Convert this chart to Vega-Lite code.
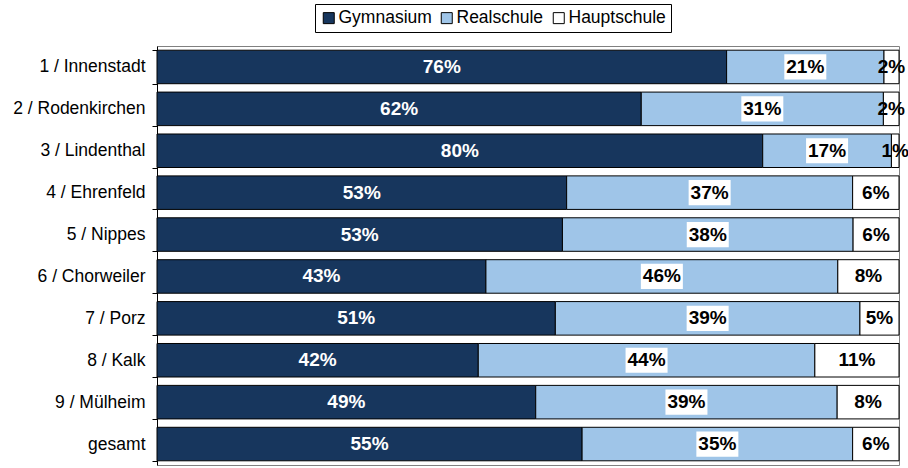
{
  "$schema": "https://vega.github.io/schema/vega-lite/v6.json",
  "width": 742,
  "height": 419,
  "autosize": {"type": "none"},
  "padding": {"left": 157, "top": 46, "right": 9, "bottom": 3},
  "background": "white",
  "config": {"view": {"stroke": "#808080", "strokeWidth": 1}, "font": "Liberation Sans"},
  "data": {
    "values": [
      {"district": "1 / Innenstadt", "school": "Gymnasium", "value": 76, "ord": 1},
      {"district": "1 / Innenstadt", "school": "Realschule", "value": 21, "ord": 2},
      {"district": "1 / Innenstadt", "school": "Hauptschule", "value": 2, "ord": 3},
      {"district": "2 / Rodenkirchen", "school": "Gymnasium", "value": 62, "ord": 1},
      {"district": "2 / Rodenkirchen", "school": "Realschule", "value": 31, "ord": 2},
      {"district": "2 / Rodenkirchen", "school": "Hauptschule", "value": 2, "ord": 3},
      {"district": "3 / Lindenthal", "school": "Gymnasium", "value": 80, "ord": 1},
      {"district": "3 / Lindenthal", "school": "Realschule", "value": 17, "ord": 2},
      {"district": "3 / Lindenthal", "school": "Hauptschule", "value": 1, "ord": 3},
      {"district": "4 / Ehrenfeld", "school": "Gymnasium", "value": 53, "ord": 1},
      {"district": "4 / Ehrenfeld", "school": "Realschule", "value": 37, "ord": 2},
      {"district": "4 / Ehrenfeld", "school": "Hauptschule", "value": 6, "ord": 3},
      {"district": "5 / Nippes", "school": "Gymnasium", "value": 53, "ord": 1},
      {"district": "5 / Nippes", "school": "Realschule", "value": 38, "ord": 2},
      {"district": "5 / Nippes", "school": "Hauptschule", "value": 6, "ord": 3},
      {"district": "6 / Chorweiler", "school": "Gymnasium", "value": 43, "ord": 1},
      {"district": "6 / Chorweiler", "school": "Realschule", "value": 46, "ord": 2},
      {"district": "6 / Chorweiler", "school": "Hauptschule", "value": 8, "ord": 3},
      {"district": "7 / Porz", "school": "Gymnasium", "value": 51, "ord": 1},
      {"district": "7 / Porz", "school": "Realschule", "value": 39, "ord": 2},
      {"district": "7 / Porz", "school": "Hauptschule", "value": 5, "ord": 3},
      {"district": "8 / Kalk", "school": "Gymnasium", "value": 42, "ord": 1},
      {"district": "8 / Kalk", "school": "Realschule", "value": 44, "ord": 2},
      {"district": "8 / Kalk", "school": "Hauptschule", "value": 11, "ord": 3},
      {"district": "9 / Mülheim", "school": "Gymnasium", "value": 49, "ord": 1},
      {"district": "9 / Mülheim", "school": "Realschule", "value": 39, "ord": 2},
      {"district": "9 / Mülheim", "school": "Hauptschule", "value": 8, "ord": 3},
      {"district": "gesamt", "school": "Gymnasium", "value": 55, "ord": 1},
      {"district": "gesamt", "school": "Realschule", "value": 35, "ord": 2},
      {"district": "gesamt", "school": "Hauptschule", "value": 6, "ord": 3}
    ]
  },
  "encoding": {
    "y": {
      "field": "district",
      "type": "nominal",
      "sort": null,
      "scale": {"paddingInner": 0.2, "paddingOuter": 0.1},
      "axis": {
        "title": null,
        "domainColor": "black",
        "tickColor": "black",
        "tickSize": 5,
        "tickBand": "extent",
        "labelFontSize": 17.5,
        "labelFont": "Liberation Sans",
        "labelColor": "black",
        "labelPadding": 7,
        "grid": false
      }
    },
    "order": {"field": "ord", "type": "quantitative"}
  },
  "layer": [
    {
      "mark": {"type": "bar", "stroke": "black", "strokeWidth": 1},
      "encoding": {
        "x": {"field": "value", "type": "quantitative", "stack": "normalize", "axis": null},
        "color": {
          "field": "school",
          "type": "nominal",
          "scale": {"domain": ["Gymnasium", "Realschule", "Hauptschule"], "range": ["#17365D", "#9FC5E8", "#FFFFFF"]},
          "legend": {
            "orient": "none",
            "legendX": 158,
            "legendY": -42,
            "direction": "horizontal",
            "title": null,
            "symbolType": "square",
            "symbolSize": 121,
            "symbolStrokeColor": "black",
            "symbolStrokeWidth": 1,
            "symbolOpacity": 1,
            "labelFontSize": 17.5,
            "labelFont": "Liberation Sans",
            "labelColor": "black",
            "labelOffset": 1,
            "columnPadding": 6,
            "padding": 5,
            "strokeColor": "black",
            "fillColor": "white",
            "encode": {"symbols": {"update": {"stroke": {"value": "black"}, "strokeWidth": {"value": 1}}}}
          }
        }
      }
    },
    {
      "mark": {"type": "point", "shape": "M-1,-0.6H1V0.6H-1Z", "size": 1764, "filled": true, "fill": "white", "strokeWidth": 0},
      "encoding": {
        "x": {"field": "value", "type": "quantitative", "stack": "normalize", "bandPosition": 0.5},
        "detail": {"field": "school"},
        "opacity": {"condition": {"test": "datum.school === 'Realschule'", "value": 1}, "value": 0}
      }
    },
    {
      "transform": [{"calculate": "datum.value + '%'", "as": "label"}],
      "mark": {"type": "text", "font": "Liberation Sans", "fontWeight": "bold", "fontSize": 19, "baseline": "middle", "align": "center"},
      "encoding": {
        "x": {"field": "value", "type": "quantitative", "stack": "normalize", "bandPosition": 0.5},
        "detail": {"field": "school"},
        "text": {"field": "label", "type": "nominal"},
        "color": {"condition": {"test": "datum.school === 'Gymnasium'", "value": "white"}, "value": "black"}
      }
    }
  ]
}
